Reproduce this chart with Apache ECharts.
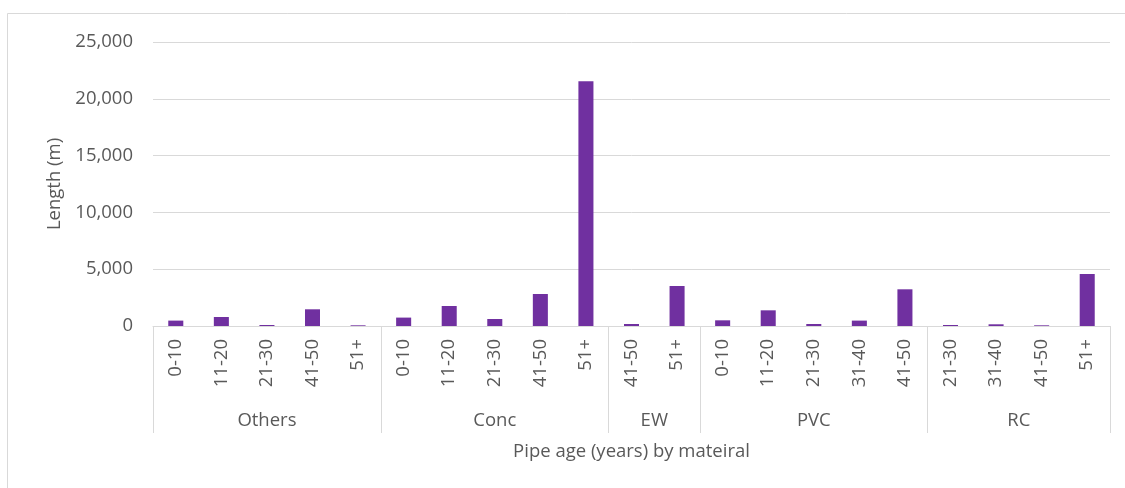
<!DOCTYPE html>
<html>
<head>
<meta charset="utf-8">
<title>Pipe length by age and material</title>
<script src="https://cdn.jsdelivr.net/npm/echarts@6/dist/echarts.min.js"></script>
<style>
  html, body { margin: 0; padding: 0; background: #fff; }
  #chart { width: 1125px; height: 488px; }
</style>
</head>
<body>
<div id="chart"></div>
<script>
// Pipe materials and the age bands recorded for each one
const materials = ['Others', 'Conc', 'EW', 'PVC', 'RC'];
const othersAges = ['0-10', '11-20', '21-30', '41-50', '51+'];
const concAges   = ['0-10', '11-20', '21-30', '41-50', '51+'];
const ewAges     = ['41-50', '51+'];
const pvcAges    = ['0-10', '11-20', '21-30', '31-40', '41-50'];
const rcAges     = ['21-30', '31-40', '41-50', '51+'];

// Pipe length (m) per age band
const othersLength = [475, 790, 90, 1470, 60];
const concLength   = [740, 1760, 615, 2815, 21550];
const ewLength     = [175, 3520];
const pvcLength    = [500, 1380, 175, 475, 3230];
const rcLength     = [90, 150, 60, 4580];

// Value axis ticks
const yTicks = [0, 5000, 10000, 15000, 20000, 25000];

const agesByMaterial = [othersAges, concAges, ewAges, pvcAges, rcAges];
const lengthByMaterial = [othersLength, concLength, ewLength, pvcLength, rcLength];

// Flatten into one category axis, keeping track of where each material group starts and ends
const ageCategories = [];
const lengths = [];
const groupEdges = [0];
const groupCentres = [];
agesByMaterial.forEach((ages, g) => {
  const start = ageCategories.length;
  ages.forEach((a, i) => {
    ageCategories.push(a);
    lengths.push(lengthByMaterial[g][i]);
  });
  groupEdges.push(ageCategories.length);
  groupCentres.push(start + ages.length / 2);
});

const textColor = '#595959';
const lineColor = '#d9d9d9';
const fontFamily = '"Open Sans", "Noto Sans", sans-serif';
const fontSize = 18.5;

const chart = echarts.init(document.getElementById('chart'), null, { renderer: 'canvas' });

chart.setOption({
  animation: false,
  backgroundColor: '#fff',
  textStyle: { fontFamily: fontFamily, color: textColor },
  graphic: [{
    // chart frame
    type: 'rect',
    shape: { x: 7.5, y: 13.5, width: 1200, height: 600 },
    style: { fill: 'none', stroke: lineColor, lineWidth: 1 },
    silent: true
  }],
  grid: { left: 153, right: 15, top: 42, bottom: 162, containLabel: false },
  xAxis: [
    {
      type: 'category',
      data: ageCategories,
      position: 'bottom',
      axisLine: { show: true, lineStyle: { color: lineColor, width: 1 } },
      axisTick: { show: false },
      axisLabel: {
        rotate: 90,
        interval: 0,
        margin: 13,
        color: textColor,
        fontFamily: fontFamily,
        fontSize: fontSize
      },
      splitLine: { show: false }
    },
    {
      // Material grouping row: separators at group edges, names at group centres
      type: 'value',
      min: 0,
      max: ageCategories.length,
      position: 'bottom',
      axisLine: { show: false },
      axisTick: {
        show: true,
        customValues: groupEdges,
        length: 107,
        lineStyle: { color: lineColor, width: 1 }
      },
      axisLabel: {
        show: true,
        customValues: groupCentres,
        formatter: (v) => materials[groupCentres.indexOf(v)] || '',
        margin: 85,
        color: textColor,
        fontFamily: fontFamily,
        fontSize: fontSize
      },
      splitLine: { show: false },
      name: 'Pipe age (years) by mateiral',
      nameLocation: 'middle',
      nameGap: 116,
      nameTextStyle: { color: textColor, fontFamily: fontFamily, fontSize: fontSize }
    }
  ],
  yAxis: {
    type: 'value',
    min: yTicks[0],
    max: yTicks[yTicks.length - 1],
    interval: yTicks[1] - yTicks[0],
    axisLine: { show: false },
    axisTick: { show: false },
    axisLabel: {
      margin: 20,
      color: textColor,
      fontFamily: fontFamily,
      fontSize: fontSize,
      formatter: (v) => v.toLocaleString('en-US')
    },
    splitLine: { show: true, lineStyle: { color: lineColor, width: 1 } },
    name: 'Length (m)',
    nameLocation: 'middle',
    nameRotate: 90,
    nameGap: 88,
    nameTextStyle: { color: textColor, fontFamily: fontFamily, fontSize: fontSize }
  },
  series: [{
    type: 'bar',
    xAxisIndex: 0,
    yAxisIndex: 0,
    data: lengths,
    barWidth: '33%',
    itemStyle: { color: '#7030a0' }
  }]
});
</script>
</body>
</html>
